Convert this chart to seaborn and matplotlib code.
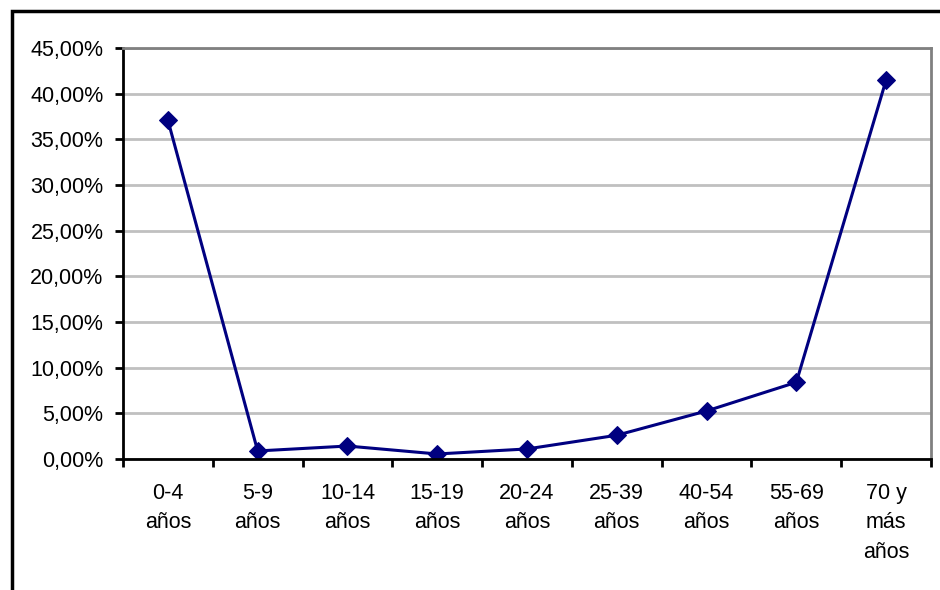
import pandas as pd
import matplotlib.pyplot as plt
import seaborn as sns
from matplotlib.patches import Rectangle
from matplotlib.ticker import FuncFormatter, FixedLocator

# age groups and share of cases (%)
grupos = ["0-4\naños", "5-9\naños", "10-14\naños", "15-19\naños", "20-24\naños",
          "25-39\naños", "40-54\naños", "55-69\naños", "70 y\nmás\naños"]
porcentaje = [37.1, 0.88, 1.42, 0.55, 1.1, 2.6, 5.26, 8.4, 41.5]
yticks = [0, 5, 10, 15, 20, 25, 30, 35, 40, 45]

df = pd.DataFrame({"grupo": grupos, "pct": porcentaje})

sns.set_style("white")
plt.rcParams["font.family"] = ["Liberation Sans", "DejaVu Sans"]
plt.rcParams["text.color"] = "black"
plt.rcParams["xtick.labelcolor"] = "black"
plt.rcParams["ytick.labelcolor"] = "black"

fig = plt.figure(figsize=(9.4, 5.9), dpi=100)
ax = fig.add_axes([123 / 940, 1 - 459 / 590, (931 - 123) / 940, (459 - 48) / 590])

# outer chart frame (cut at right and bottom edges like the original)
fig.patches.append(Rectangle((12 / 940, -0.1), 1.2, 1 - 11 / 590 + 0.1,
                             transform=fig.transFigure, fill=False,
                             edgecolor="black", linewidth=2.5))

sns.lineplot(data=df, x=range(len(grupos)), y="pct", ax=ax, color="#000080",
             linewidth=2.2, marker="D", markersize=9.5, markeredgecolor="#000080",
             sort=False)

ax.set_xlim(-0.5, len(grupos) - 0.5)
ax.set_ylim(0, 45)
ax.set_yticks(yticks)
ax.yaxis.set_major_formatter(FuncFormatter(lambda v, _: f"{v:.2f}%".replace(".", ",")))
ax.yaxis.grid(True, color="#c0c0c0", linewidth=2)
ax.set_axisbelow(True)

# ticks on category boundaries, labels centred
ax.xaxis.set_major_locator(FixedLocator([i - 0.5 for i in range(len(grupos) + 1)]))
ax.xaxis.set_minor_locator(FixedLocator(list(range(len(grupos)))))
ax.set_xticklabels([""] * (len(grupos) + 1))
ax.set_xticklabels(grupos, minor=True, linespacing=1.55)
ax.tick_params(axis="x", which="major", direction="out", length=6, width=2,
               color="black", bottom=True)
ax.tick_params(axis="x", which="minor", length=0, pad=17, labelsize=15.5,
               labelcolor="black")
ax.tick_params(axis="y", direction="out", length=6, width=2, color="black",
               left=True, pad=8, labelsize=15.5, labelcolor="black")

for side in ["left", "bottom"]:
    ax.spines[side].set_color("black")
    ax.spines[side].set_linewidth(2)
for side in ["top", "right"]:
    ax.spines[side].set_color("#808080")
    ax.spines[side].set_linewidth(2)

ax.set_xlabel("")
ax.set_ylabel("")

fig.savefig("out.png", dpi=100)
